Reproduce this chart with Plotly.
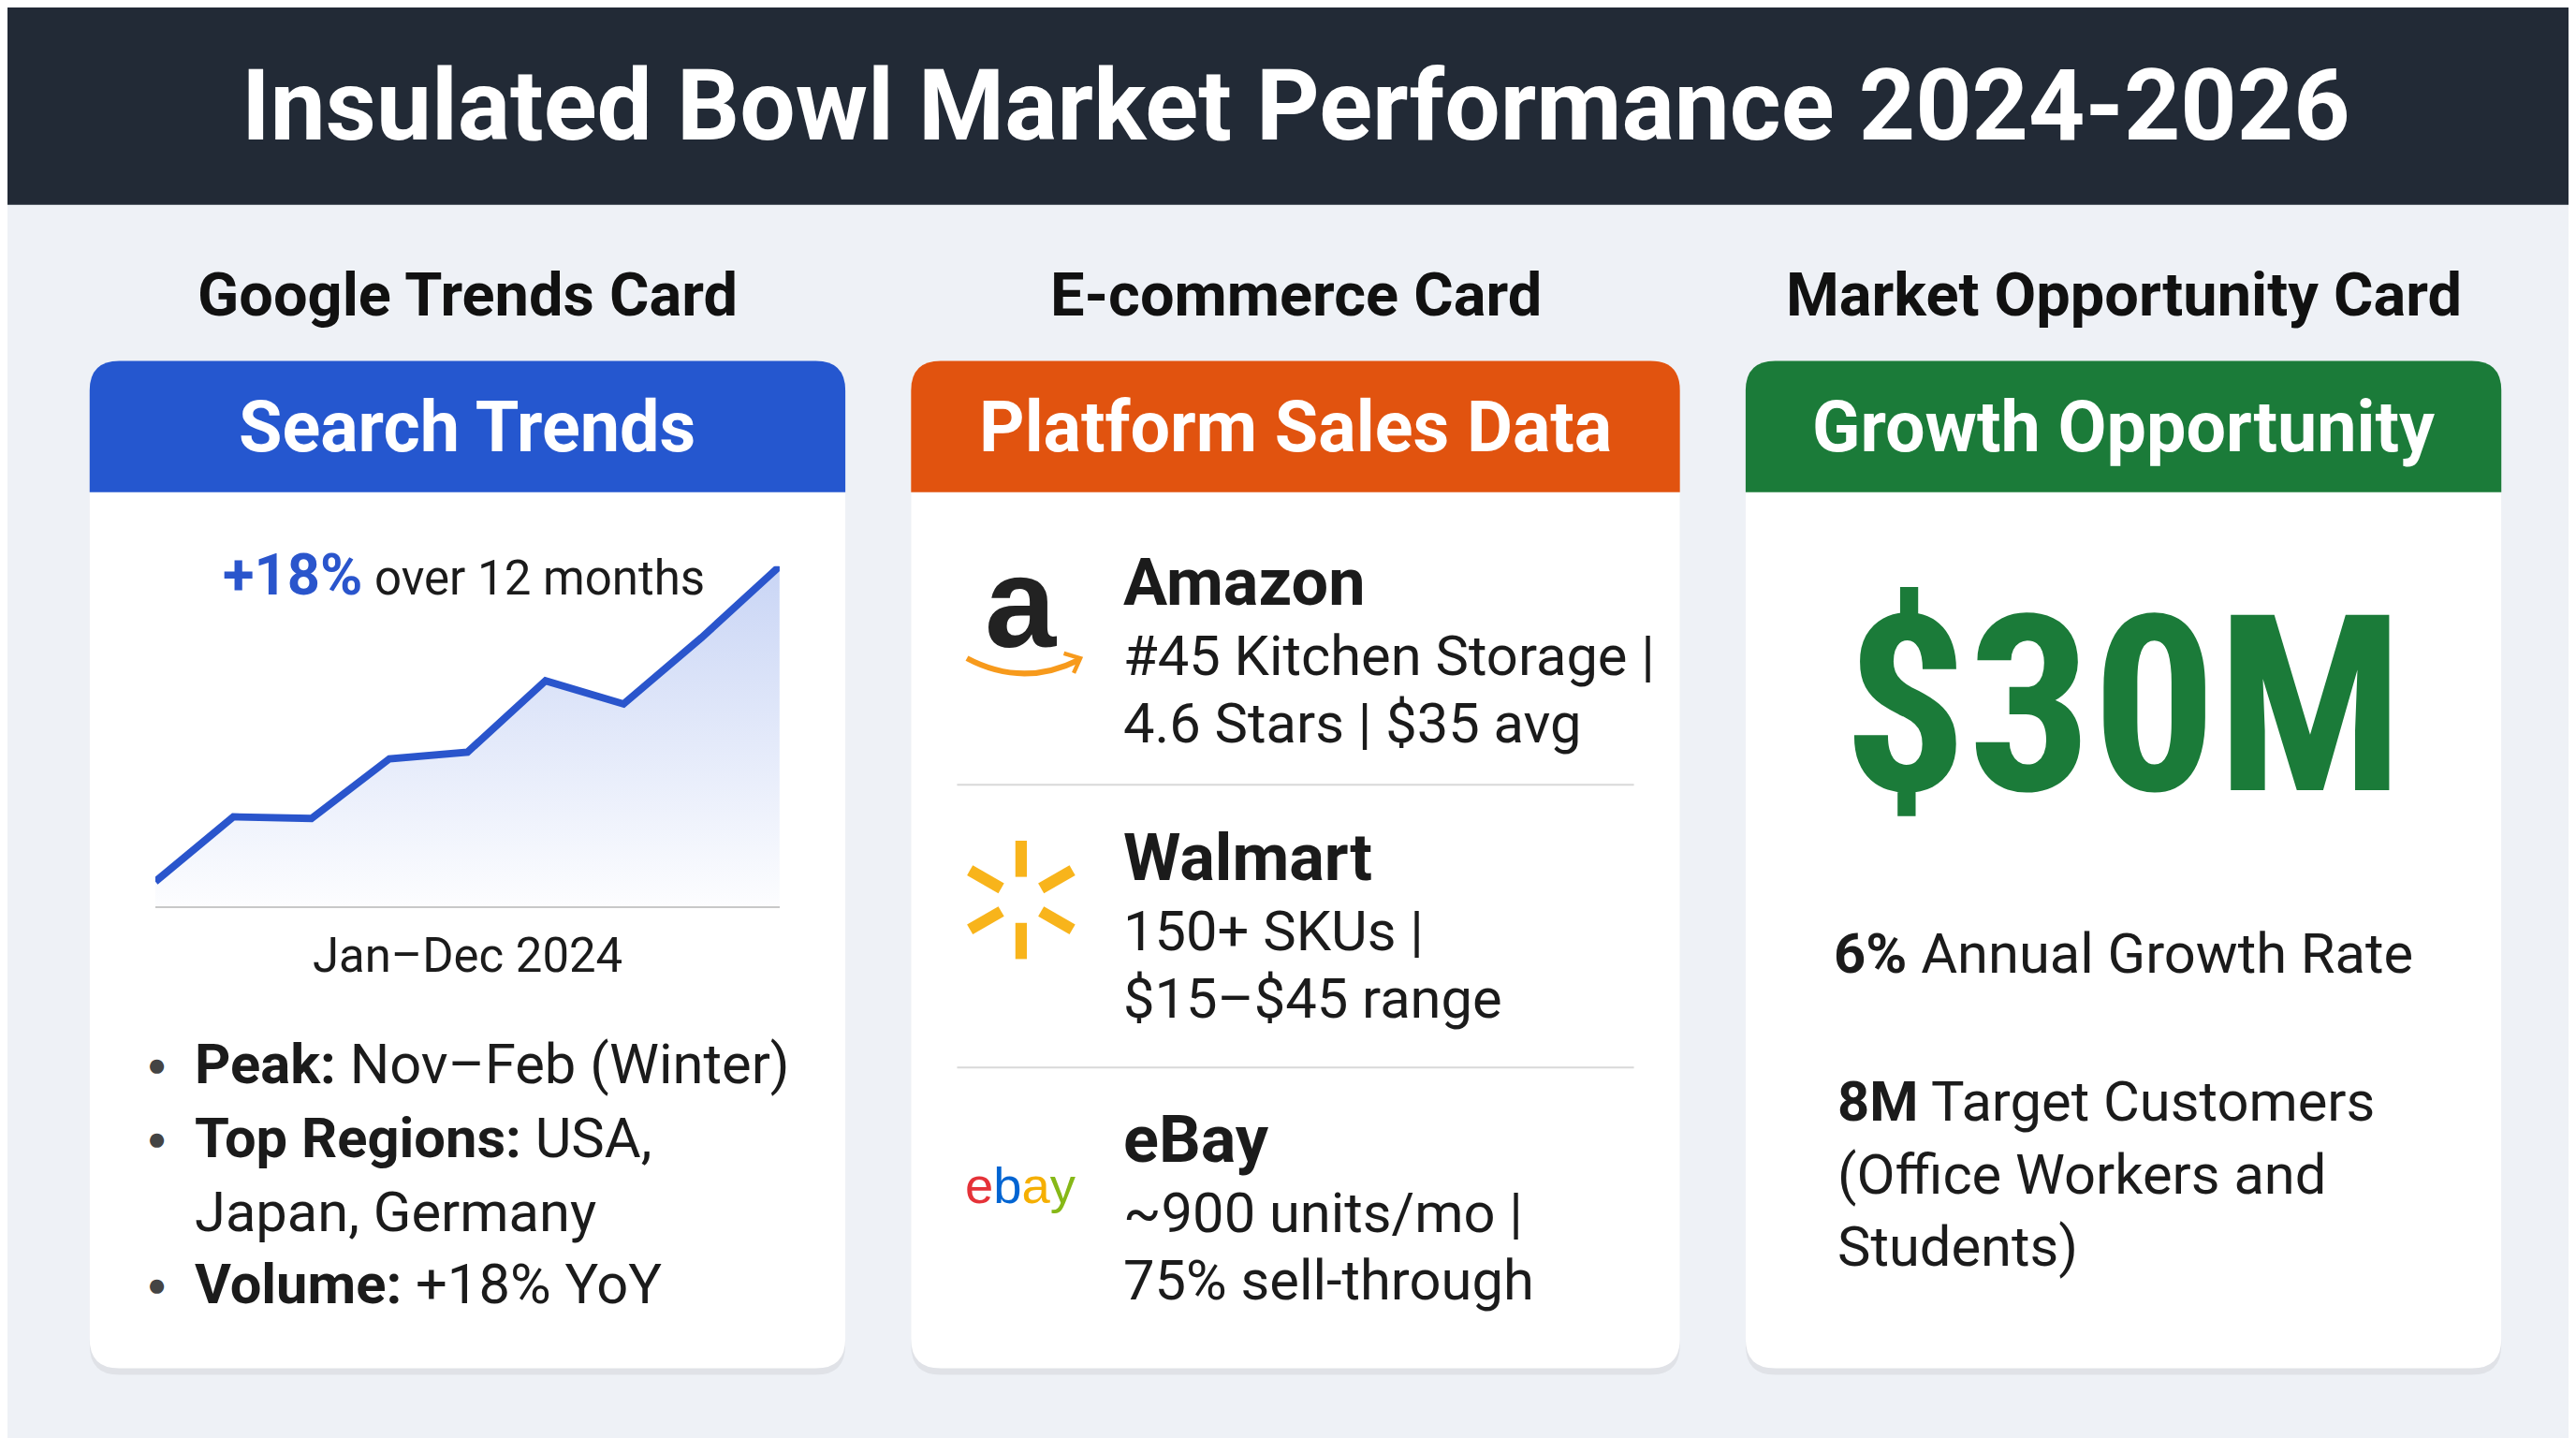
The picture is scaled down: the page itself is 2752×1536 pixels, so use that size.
import math
import plotly.graph_objects as go

W, H = 1568, 875  # design grid, scaled to 2752x1536 on output
S = 2752 / 1568

title = "Insulated Bowl Market Performance 2024-2026"
card_labels = ["Google Trends Card", "E-commerce Card", "Market Opportunity Card"]
card_titles = ["Search Trends", "Platform Sales Data", "Growth Opportunity"]
card_colors = ["#2557cf", "#e1530f", "#1b7b39"]
card_x = [(50, 510), (550, 1018), (1058, 1518)]

trend_idx = [0, 1, 2, 3, 4, 5, 6, 7, 8]
trend_values = [15, 54, 53, 89, 93, 136, 122, 162, 205]

bullet_labels = ["Peak:", "Top Regions:", "", "Volume:"]
bullet_texts = ["Nov–Feb (Winter)", "USA,", "Japan, Germany", "+18% YoY"]

platforms = ["Amazon", "Walmart", "eBay"]
platform_lines = [
    ["#45 Kitchen Storage |", "4.6 Stars | $35 avg"],
    ["150+ SKUs |", "$15–$45 range"],
    ["~900 units/mo |", "75% sell-through"],
]

market_size = "$30M"
growth_rate = "6%"
target_customers = "8M"


def px(x):
    return x / W


def py(y):
    return 1 - y / H


def rounded(x0, y0, x1, y1, r, top_only=False):
    rx, ry = r / W, r / H
    X0, X1, Y0, Y1 = px(x0), px(x1), py(y0), py(y1)
    p = f"M {X0+rx},{Y0} L {X1-rx},{Y0} Q {X1},{Y0} {X1},{Y0-ry} "
    if top_only:
        p += f"L {X1},{Y1} L {X0},{Y1} "
    else:
        p += f"L {X1},{Y1+ry} Q {X1},{Y1} {X1-rx},{Y1} L {X0+rx},{Y1} Q {X0},{Y1} {X0},{Y1+ry} "
    p += f"L {X0},{Y0-ry} Q {X0},{Y0} {X0+rx},{Y0} Z"
    return p


F = "Roboto"
fig = go.Figure()
shapes, ann = [], []


def text(x, y, t, size, color="#1b1b1b", xanchor="center", bold=False, family=F):
    if bold:
        t = f"<b>{t}</b>"
    ann.append(dict(x=px(x), y=py(y), xref="paper", yref="paper", text=t, showarrow=False,
                    xanchor=xanchor, yanchor="middle", align="left",
                    font=dict(size=size * S, color=color, family=family)))


# header
shapes.append(dict(type="rect", xref="paper", yref="paper", x0=0, x1=1, y0=py(120), y1=1,
                   fillcolor="#222a36", line_width=0, layer="below"))
text(784, 60, title, 60, "white", bold=True)

for (x0, x1), lab, ttl, col in zip(card_x, card_labels, card_titles, card_colors):
    shapes.append(dict(type="path", xref="paper", yref="paper", path=rounded(x0, 218, x1, 832, 18),
                       fillcolor="rgba(0,0,0,0.06)", line_width=0, layer="below"))
    shapes.append(dict(type="path", xref="paper", yref="paper", path=rounded(x0, 215, x1, 828, 18),
                       fillcolor="white", line_width=0, layer="below"))
    shapes.append(dict(type="path", xref="paper", yref="paper", path=rounded(x0, 215, x1, 295, 18, True),
                       fillcolor=col, line_width=0, layer="below"))
    text((x0 + x1) / 2, 175, lab, 37, "#111111", bold=True)
    text((x0 + x1) / 2, 255, ttl, 43, "white", bold=True)

# card 1: trend line
fig.add_trace(go.Scatter(x=trend_idx, y=trend_values, mode="lines", fill="tozeroy",
                         line=dict(color="#2a55cc", width=4.5 * S),
                         fillgradient=dict(type="vertical",
                                           colorscale=[[0, "rgba(120,150,230,0.02)"],
                                                       [1, "rgba(120,150,230,0.40)"]]),
                         hoverinfo="skip", showlegend=False))
small = round(29 * S)
text(130, 345, "<span style='color:#2a55cc'><b>+18%</b></span>"
     f"<span style='font-size:{small}px'> over 12 months</span>", 35, "#1b1b1b", "left")
text(280, 577, "Jan–Dec 2024", 29)
for i, (bl, bt) in enumerate(zip(bullet_labels, bullet_texts)):
    y = [643, 688, 733, 777][i]
    if bl:
        text(91, y, "●", 20, "#444444")
    text(113, y, (f"<b>{bl}</b> " if bl else "") + bt, 34, "#1b1b1b", "left")

# card 2
for yl in (473, 645):
    shapes.append(dict(type="line", xref="paper", yref="paper", x0=px(578), x1=px(990),
                       y0=py(yl), y1=py(yl), line=dict(color="#d8d8d8", width=2)))
name_y = [350, 517, 689]
for n, lines, y in zip(platforms, platform_lines, name_y):
    text(678, y, n, 40, "#1b1b1b", "left", bold=True)
    for j, l in enumerate(lines):
        text(678, y + 45 + 41 * j, l, 34, "#1b1b1b", "left")

# amazon logo
text(617, 362, "a", 78, "#222222", bold=True, family="Liberation Sans")
shapes.append(dict(type="path", xref="paper", yref="paper",
                   path=f"M {px(584)},{py(396)} Q {px(618)},{py(414)} {px(652)},{py(397)}",
                   line=dict(color="#f79a1c", width=3.5 * S)))
shapes.append(dict(type="path", xref="paper", yref="paper",
                   path=f"M {px(643)},{py(393)} L {px(653)},{py(396)} L {px(649)},{py(405)}",
                   line=dict(color="#f79a1c", width=2.5 * S)))
# walmart spark
cx, cy = 617, 543
for ang in (90, 30, -30, -90, 150, 210):
    a = math.radians(ang)
    shapes.append(dict(type="line", xref="paper", yref="paper",
                       x0=px(cx + 14 * math.cos(a)), y0=py(cy - 14 * math.sin(a)),
                       x1=px(cx + 36 * math.cos(a)), y1=py(cy - 36 * math.sin(a)),
                       line=dict(color="#f8b41b", width=7 * S)))
# ebay logo
text(617, 717, "<span style='color:#e53238'>e</span><span style='color:#0064d2'>b</span>"
     "<span style='color:#f5af02'>a</span><span style='color:#86b817'>y</span>", 31,
     family="Liberation Sans")

# card 3
text(1288, 425, market_size, 150, "#1b7b39", bold=True, family="Roboto Condensed, Roboto")
text(1288, 576, f"<b>{growth_rate}</b> Annual Growth Rate", 34)
text(1113, 710, f"<b>{target_customers}</b> Target Customers<br>(Office Workers and<br>Students)",
     34, "#1b1b1b", "left")

fig.update_layout(
    width=2752, height=1536, margin=dict(l=0, r=0, t=0, b=0),
    paper_bgcolor="#eef1f6", plot_bgcolor="rgba(0,0,0,0)",
    shapes=shapes, annotations=ann,
    xaxis=dict(domain=[px(90), px(470)], range=[0, 8], showgrid=False, zeroline=False,
               showticklabels=False, showline=True, linecolor="#c8c8c8", linewidth=2),
    yaxis=dict(domain=[py(547), py(340)], range=[0, 205], showgrid=False, zeroline=False,
               showticklabels=False),
)
fig.write_html("out.html")
